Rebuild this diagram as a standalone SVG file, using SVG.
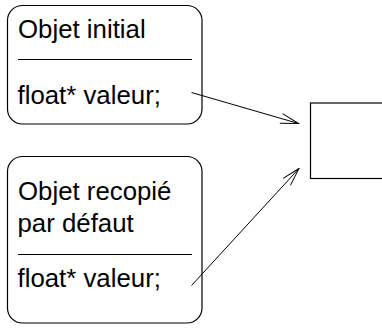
<svg xmlns="http://www.w3.org/2000/svg" width="382" height="328" viewBox="0 0 382 328">
  <style>
    .box { fill: none; stroke: #000; stroke-width: 1.2; }
    .sep { stroke: #000; stroke-width: 1; }
    .lbl { font-family: "Liberation Sans", Arial, sans-serif; font-size: 25.8px; fill: #000; }
    .link { fill: none; stroke: #000; stroke-width: 1; }
  </style>
  <defs>
    <marker id="open" viewBox="0 0 20 12" refX="19" refY="6" markerWidth="20" markerHeight="12" markerUnits="userSpaceOnUse" orient="auto">
      <path d="M1,1 L19,6 L1,11" fill="none" stroke="#000" stroke-width="1"/>
    </marker>
  </defs>
  <rect width="382" height="328" fill="#fff"/>

  <g id="objet-initial">
    <rect class="box" x="7.5" y="5.5" width="194.5" height="118.5" rx="15" ry="15"/>
    <text class="lbl" x="18" y="37.5">Objet initial</text>
    <line class="sep" x1="18" y1="59.5" x2="192" y2="59.5"/>
    <text class="lbl" x="17.5" y="104">float* valeur;</text>
  </g>

  <g id="objet-recopie">
    <rect class="box" x="7.5" y="156.5" width="194.5" height="166.5" rx="15" ry="15"/>
    <text class="lbl" x="18" y="200">Objet recopié</text>
    <text class="lbl" x="17.5" y="232">par défaut</text>
    <line class="sep" x1="18" y1="254.5" x2="192" y2="254.5"/>
    <text class="lbl" x="17.5" y="287">float* valeur;</text>
  </g>

  <g id="donnee">
    <rect class="box" x="310.5" y="103" width="80" height="75.5"/>
  </g>

  <g id="connectors">
    <line class="link" x1="191.5" y1="92.5" x2="298.5" y2="123.5" marker-end="url(#open)"/>
    <line class="link" x1="191.5" y1="285.5" x2="299" y2="168.5" marker-end="url(#open)"/>
  </g>
</svg>
